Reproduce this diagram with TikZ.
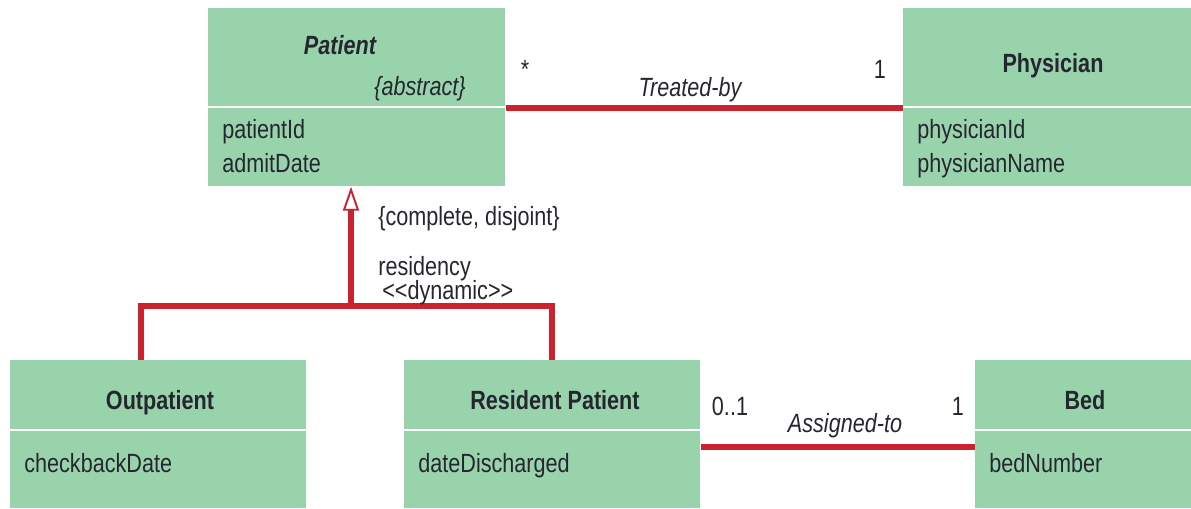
\documentclass[tikz,border=0pt]{standalone}
\usepackage{fontspec}
\setmainfont{Liberation Sans}[FakeStretch=0.82]
\usepackage{tikz}
\usetikzlibrary{arrows.meta,positioning,calc}
\definecolor{umlgreen}{RGB}{153,211,172}
\definecolor{umlred}{RGB}{204,34,48}
\definecolor{umltext}{RGB}{38,38,48}

\begin{document}
\begin{tikzpicture}[x=0.02cm, y=-0.02cm, font=\fontsize{15}{18}\selectfont, text=umltext,
  cls/.style={fill=umlgreen, draw=none, inner sep=0pt, anchor=north west},
  sep/.style={white, line width=1pt},
  link/.style={umlred, line width=3pt},
  head/.style={anchor=base, font=\fontsize{15}{18}\selectfont\bfseries},
  attr/.style={anchor=base west, inner sep=0pt},
  lab/.style={anchor=base, inner sep=0pt}]
\useasboundingbox (0,0) rectangle (1191,508);
% class boxes
\foreach \nm/\x/\y/\w/\h in {patient/208/8/297/178, physician/903/8/288/178,
    outpt/10/360/296/148, resident/404/360/296/148, bed/975/360/216/148}
  \node[cls, minimum width={\w*0.02cm}, minimum height={\h*0.02cm}] (\nm) at (\x,\y) {};
% separators
\foreach \nm/\y in {patient/107, physician/107, outpt/430, resident/430, bed/430}
  \draw[sep] (\nm.west |- 0,\y) -- (\nm.east |- 0,\y);
% class names
\node[head, font=\fontsize{15}{18}\selectfont\bfseries\itshape] (patientN) at (340,54) {Patient};
\node[lab, font=\fontsize{15}{18}\selectfont\itshape] (abstr) at (420,95) {\{abstract\}};
\node[head] (physicianN) at (1053,72) {Physician};
\node[head] (outptN) at (160,409) {Outpatient};
\node[head] (residentN) at (555,409) {Resident Patient};
\node[head] (bedN) at (1085,409) {Bed};
% attributes
\node[attr] (pid) at (222,138) {patientId};
\node[attr] (adate) at (222,172) {admitDate};
\node[attr] (phid) at (917,138) {physicianId};
\node[attr] (phname) at (917,172) {physicianName};
\node[attr] (cbdate) at (24,472) {checkbackDate};
\node[attr] (ddis) at (418,472) {dateDischarged};
\node[attr] (bnum) at (989,472) {bedNumber};
% associations
\coordinate (tb) at (0,108);
\coordinate (at) at (0,447);
\draw[link] (patient.east |- tb) -- (physician.west |- tb);
\draw[link] (resident.east |- at) -- (bed.west |- at);
\node[lab] (tbstar) at (525,78) {*};
\node[lab] (tbone) at (880,78) {1};
\node[lab, font=\fontsize{15}{18}\selectfont\itshape] (tblab) at (690,96) {Treated-by};
\node[lab] (atmany) at (730,415) {0..1};
\node[lab] (atone) at (958,415) {1};
\node[lab, font=\fontsize{15}{18}\selectfont\itshape] (atlab) at (845,432) {Assigned-to};
% generalization
\coordinate (gen) at (351,306);
\coordinate (gl) at (141,306);
\coordinate (gr) at (552,306);
\draw[link, -{Triangle[open, length=0.48cm, width=0.32cm, line width=1.1pt, fill=white]}]
  (gen) -- (patient.south -| gen);
\draw[link] (outpt.north -| gl) -- (gl) -- (gr) -- (resident.north -| gr);
\node[attr] (constr) at (378,225) {\{complete, disjoint\}};
\node[attr] (resid) at (378,275) {residency};
\node[attr] (dyn) at (382,299) {<\kern0pt<dynamic>\kern0pt>};
\end{tikzpicture}
\end{document}
